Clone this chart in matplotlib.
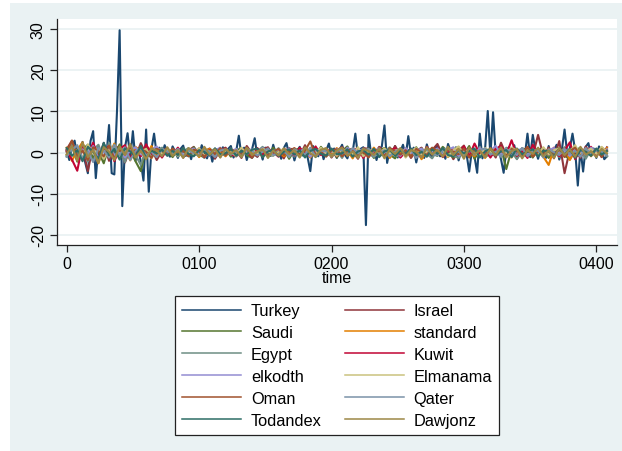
import numpy as np
import matplotlib
matplotlib.use("Agg")
import matplotlib.pyplot as plt
from matplotlib.patches import Rectangle

plt.rcParams["font.family"] = ["Liberation Sans", "DejaVu Sans"]

# Turkey cada 2 dias, el resto cada 4 dias
time_turkey = np.arange(0, 409, 2)
time_rest = np.arange(0, 409, 4)

turkey = [
    0.5, -1.8, 1.6, 2.9, -1.2, 0.8, 2.6, -2.4, -5.0, 2.8,
    5.2, -6.2, 1.5, -1.0, 2.4, -0.8, 6.7, -5.0, -5.3, 10.0,
    29.7, -13.0, 1.2, 4.7, -1.5, 5.2, -2.0, 1.0, -2.3, -6.8,
    5.6, -9.5, 0.8, 4.6, -0.5, 1.2, -0.7, 1.8, 0.3, -1.0,
    1.5, 0.2, -1.3, 0.9, 1.7, -0.8, 0.4, -1.6, 1.1, 0.6,
    -0.9, 1.8, 0.2, -1.4, 0.7, -2.2, 1.0, 0.4, -1.1, 1.3,
    -0.6, 0.9, 1.6, -1.2, 0.3, 4.1, -0.9, 1.2, -1.8, 0.5,
    0.8, 3.5, -1.0, 0.6, -1.7, 1.2, 0.1, -0.8, 1.9, -0.4,
    0.7, -1.5, 1.1, 2.3, -0.6, 0.9, -1.9, 0.4, 1.4, -0.7,
    0.9, -1.2, -4.5, 1.6, 0.3, -0.9, 1.2, -1.6, 0.5, 2.2,
    -0.8, 1.0, -1.3, 0.6, 1.9, -0.5, -1.4, 0.8, 0.2, 4.6,
    -1.0, 0.9, 1.3, -17.6, 4.3, -0.6, 1.1, -1.8, 0.7, 1.5,
    6.6, -2.5, 0.8, -0.4, 1.6, -1.2, 0.3, 1.9, -0.9, 4.0,
    -0.5, 1.2, -2.4, 0.6, 1.0, -1.3, 2.0, -0.2, -1.1, 0.8,
    1.7, -0.9, 0.4, -1.5, 2.1, 0.3, -0.8, 1.3, -1.9, 0.6,
    1.2, -0.4, -4.6, 0.5, -1.0, -4.9, 4.6, -1.4, 1.0, 10.1,
    -0.8, 9.8, -0.5, 1.1, -1.6, -4.9, 0.7, 1.3, -0.6, 1.8,
    -1.2, 0.4, 1.0, -0.7, 4.6, -1.1, 4.3, 0.6, -1.5, 0.9,
    0.3, -1.3, 1.6, -0.9, 0.5, 1.9, -1.7, 0.8, 5.6, -0.2,
    1.1, 4.6, 0.5, -8.0, 0.9, -4.6, 1.4, 2.3, -0.6, 1.0,
    -1.3, 1.5, 0.4, -1.6, -0.9,
]

israel = [
    0.8, 2.9, -1.6, 1.2, -4.5, 1.8, -0.9, 2.2, -2.0, 0.6,
    1.7, -2.4, 0.9, -1.1, 2.3, -0.5, 1.0, -1.8, 0.4, 1.1,
    -0.7, 0.9, -1.2, 0.5, 1.4, -0.9, 0.3, 1.0, -1.5, 0.6,
    1.2, -0.8, 0.4, -1.3, 1.6, -0.2, -1.0, 0.8, 1.3, -0.6,
    0.5, -1.4, 1.1, 0.2, -0.9, 1.8, -1.1, 0.7, -0.3, 1.0,
    -1.2, 0.6, 1.3, -0.8, 0.2, -1.5, 1.1, 0.9, -0.6, 1.4,
    0.3, -1.0, 1.6, -0.5, 0.8, -1.3, 0.4, 1.2, -0.9, 0.6,
    2.1, -0.7, 0.9, -1.6, 0.5, 1.7, -1.1, 0.2, 1.0, -0.4,
    0.8, -1.2, 2.4, -0.6, 1.1, -1.5, 0.3, 1.3, -0.8, 4.3,
    -0.9, 1.2, -1.4, 2.8, -5.0, 0.7, 0.6, -1.3, 1.5, -0.5,
    0.9, -1.1, 1.3,
]

saudi = [
    -0.6, 1.5, -2.2, 0.8, 1.9, -1.4, 0.3, -2.6, 1.7, -0.9,
    2.0, -1.3, 0.6, -2.1, -4.5, 1.2, -0.4, 1.0, -0.8, 0.5,
    -1.1, 0.7, 0.2, -0.9, 1.3, -0.5, -1.2, 0.8, 0.4, -0.7,
    0.9, -1.0, 0.5, 1.1, -0.6, -1.3, 0.8, 0.2, -0.9, 1.2,
    -0.4, 0.8, -1.5, 0.6, 1.0, -0.8, 0.3, -1.1, 1.4, -0.2,
    0.7, -1.2, 0.4, 1.5, -0.9, 0.1, -0.6, 1.0, -1.3, 0.5,
    1.1, -0.5, -1.4, 0.9, 0.3, -0.8, 1.3, -1.0, 0.6, -0.3,
    -0.8, 1.4, 0.2, -1.2, 0.9, -0.4, 1.6, -1.5, 0.5, 0.8,
    -1.0, 0.6, 1.2, -4.0, 0.7, -0.9, 1.1, 0.3, -1.2, 0.9,
    0.4, -1.3, 0.8, 1.0, -0.7, -1.6, 0.5, 1.2, -0.8, 0.6,
    -0.5, 1.0, -0.9,
]

standard = [
    1.2, -2.0, 0.6, 2.5, -1.3, 0.9, -2.6, 1.8, -0.7, 2.2,
    -1.5, 0.8, -1.9, 1.4, 0.3, -1.0, 1.6, -0.6, 0.9, -0.3,
    0.5, -0.8, 1.0, -0.4, 0.7, -1.1, 0.3, 0.9, -0.6, 0.2,
    -0.9, 0.6, 0.4, -0.7, 1.1, -0.3, 0.5, -1.0, 0.8, -0.2,
    0.6, -0.9, 0.2, 1.0, -0.5, 0.7, -1.2, 0.4, 0.9, -0.6,
    -0.3, 1.1, -0.8, 0.5, -1.4, 0.8, 0.2, -0.7, 1.2, -0.4,
    0.9, -1.3, 0.4, -0.2, 1.0, -0.9, 0.6, -1.6, 0.3, 1.1,
    -0.6, 0.8, -1.1, 0.4, 1.3, -0.5, 0.2, -0.9, 0.7, -1.3,
    0.5, 1.0, -0.7, 0.3, -1.2, 0.8, -0.4, 1.1, -0.8, 0.2,
    -1.0, -3.0, 0.9, -0.5, 1.2, -1.8, 0.6, -0.3, 1.0, -0.9,
    0.7, -0.6, 1.1,
]

egypt = [
    -1.0, 2.1, -0.4, 1.3, -2.2, 0.7, 1.9, -1.6, 2.4, -0.8,
    1.0, -2.3, 1.5, -0.6, -3.0, 0.9, -0.7, 0.4, 1.2, -0.5,
    0.8, -1.0, 0.3, 1.1, -0.7, 0.5, -1.3, 0.2, 0.9, -0.4,
    -0.6, 1.0, -0.9, 0.4, 0.7, -1.2, 0.3, 1.4, -0.5, -0.8,
    1.1, -0.3, 0.6, -1.0, 0.8, -0.6, 1.2, -0.9, 0.1, 0.7,
    -0.8, 0.4, -1.3, 0.9, 0.5, -0.7, 1.0, -0.2, -1.1, 0.6,
    0.2, 1.3, -0.6, -1.1, 0.7, 0.4, -0.9, 1.0, -0.3, -1.4,
    0.6, -0.2, 1.1, -0.8, -1.3, 0.9, 0.3, -0.6, 1.4, -1.0,
    -0.4, 0.7, -0.9, 1.2, 0.2, -1.6, 0.8, -0.5, 1.0, -0.3,
    0.9, -0.7, 0.4, -1.1, 1.3, -0.2, -0.9, 0.6, -1.5, 0.8,
    -0.4, 0.9, -0.6,
]

kuwit = [
    0.4, -1.7, -4.4, 1.9, -0.8, 2.4, -1.2, 0.6, 1.6, -2.1,
    0.9, 1.8, -1.4, 0.5, -0.9, 2.0, -0.3, 0.7, -1.2, 0.8,
    -0.5, 1.2, -0.8, 0.3, -0.4, 1.0, -1.1, 0.6, 0.2, -0.9,
    1.0, -0.4, -0.9, 0.7, 0.3, -1.2, 1.1, -0.5, 0.8, 0.1,
    -1.0, 0.9, 0.4, -0.7, 1.2, -0.3, -0.8, 1.5, -0.6, 0.3,
    0.8, -0.9, 1.2, -0.4, 0.6, 1.0, -1.3, 0.5, -0.2, 0.9,
    -0.7, 0.5, 1.1, -1.2, 0.2, 0.9, -0.5, -1.0, 1.4, -0.4,
    1.0, -1.1, 0.3, 0.8, -0.6, 1.5, -0.9, 2.2, -0.3, 0.6,
    -1.2, 0.9, 1.6, -0.5, 3.0, -0.8, 0.4, -1.3, 1.9, -0.6,
    0.8, -0.4, 1.2, -0.9, 0.5, 2.5, -1.6, 0.7, -0.2, 1.4,
    -0.9, 1.2, 0.3,
]

elkodth = [
    0.3, 1.4, -1.1, 0.8, -0.5, 1.6, -1.3, 0.2, 1.1, -0.7,
    0.9, -1.2, 0.5, 1.3, -0.4, -0.9, 0.7, 1.5, -0.3, 0.6,
    -0.2, 0.8, -0.6, 0.4, 1.0, -0.3, 0.6, -0.8, 0.5, 1.2,
    -0.5, 0.3, 0.9, -0.7, 0.2, 0.8, -0.4, 1.1, -0.9, 0.4,
    0.7, -0.2, 1.0, -0.6, 0.3, 0.9, -1.0, 0.5, 0.8, -0.4,
    0.2, 0.9, -0.7, 1.2, -0.3, 0.5, 0.8, -0.9, 0.4, 1.0,
    -0.6, 0.7, 0.3, -0.8, 1.1, -0.2, 0.6, 0.9, -0.7, 0.4,
    1.0, -0.5, 0.6, 1.3, -0.8, 0.2, 0.7, -0.4, 1.1, -0.6,
    0.5, 1.6, -0.3, 0.8, -0.9, 0.4, 1.0, -0.5, 0.3, 0.9,
    -0.7, 0.6, 1.1, -0.2, 0.4, -0.8, 0.9, 0.3, -0.5, 1.2,
    0.2, -0.6, 0.8,
]

elmanama = [
    -0.5, 1.1, 0.4, -1.2, 2.0, -0.3, 0.9, -1.5, 0.6, 1.3,
    -0.8, 0.5, 1.2, -1.0, 0.3, 0.9, -1.4, 0.7, -0.2, 0.8,
    0.4, -0.7, 0.9, 0.1, -0.5, 1.1, -0.8, 0.3, 0.6, -1.0,
    0.7, 0.2, -0.9, 1.2, -0.4, 0.6, -0.3, 0.9, 0.4, -0.7,
    0.1, 1.0, -0.6, 0.5, -1.1, 0.8, 0.3, -0.5, 1.2, -0.2,
    0.6, -0.8, 0.9, 0.2, -0.4, 1.3, -0.9, 0.4, 0.7, -0.6,
    1.0, -0.3, 0.5, 0.8, -1.2, 0.4, 1.1, -0.5, 0.2, 0.9,
    -0.4, 0.7, -1.0, 0.6, 1.5, -0.3, 0.8, 0.2, -0.9, 1.1,
    0.3, -0.6, 0.9, -0.2, 1.2, 0.5, -1.0, 0.8, 0.4, -0.5,
    1.3, -0.4, 0.6, 1.0, -0.7, 0.3, 1.8, -0.6, 0.5, 0.9,
    -0.3, 1.4, 0.2,
]

oman = [
    0.2, 2.9, -1.0, 0.5, -1.8, 1.3, 0.4, -0.9, 1.7, -1.4,
    0.6, -0.5, 1.4, -1.1, 0.8, 0.2, -1.3, 0.9, 0.4, -0.6,
    1.0, -0.3, 0.5, -0.9, 0.7, 0.3, -1.0, 0.6, -0.4, 1.1,
    -0.7, 0.8, 0.2, -0.5, 1.0, -1.1, 0.4, 0.7, -0.8, 0.3,
    0.9, -0.6, 0.4, 1.1, -0.3, 0.5, 2.7, -0.7, 0.2, -1.0,
    0.5, 0.8, -0.9, 0.3, 1.0, -0.6, 0.2, -1.2, 0.7, 0.4,
    -0.8, 1.1, 0.3, -0.5, 0.6, -1.0, 0.9, 0.1, -0.6, 1.2,
    0.4, -0.9, 0.7, 0.2, -0.4, 1.0, -1.2, 0.6, 0.3, -0.7,
    1.1, -0.2, 0.5, -0.8, 0.9, 0.3, -0.6, 1.4, -1.0, 0.2,
    -0.5, 0.9, -0.3, 0.7, -1.1, 0.4, 1.2, -0.8, 0.3, -0.4,
    0.8, -1.0, 0.5,
]

qater = [
    -0.9, 0.7, 1.8, -1.5, 0.3, -2.3, 1.1, 0.5, -1.2, 1.9,
    -0.6, 1.3, -1.8, 0.4, 1.0, -0.7, 0.2, -1.1, 0.8, 0.3,
    -0.4, 0.9, -1.0, 0.6, -0.2, -0.8, 0.7, 0.3, -1.1, 0.5,
    0.8, -0.5, 0.3, -1.0, 0.9, 0.4, -0.7, 0.2, 1.0, -0.6,
    -0.3, 0.6, -1.1, 0.8, 0.2, -0.4, 1.0, -0.9, 0.5, 0.3,
    -1.0, 0.4, 0.7, -0.6, 1.1, -0.2, 0.5, 0.9, -0.8, -0.3,
    0.6, -0.9, 0.2, 1.0, -0.5, 0.8, -1.3, 0.4, 0.7, -0.2,
    -0.7, 0.5, 1.2, -0.4, 0.3, -1.1, 0.9, -0.3, 0.6, 1.0,
    -0.5, 0.2, -1.0, 0.7, 0.4, -0.6, 1.1, -0.9, 0.3, 0.5,
    -1.2, 0.8, 0.1, -0.6, 0.9, -0.3, 0.4, -1.0, 1.1, -0.5,
    0.6, 0.2, -0.8,
]

todandex = [
    1.1, -0.8, 0.6, -2.1, 1.4, 0.2, -1.5, 2.3, -0.6, 0.9,
    -1.7, 1.0, 0.3, -0.9, 1.6, -1.4, 0.5, -0.2, 0.7, -0.8,
    0.4, -0.6, 1.1, -0.3, -0.9, 0.6, 0.2, -0.7, 1.0, -0.4,
    -0.2, 0.9, -0.8, 0.5, -0.4, 0.7, 1.0, -1.1, 0.3, 0.6,
    -0.9, 0.2, 0.8, -0.5, 0.6, -1.2, 0.4, 0.9, -0.3, -0.7,
    1.0, -0.4, -0.2, 0.8, -1.0, 0.3, 0.6, -0.5, 0.9, -1.1,
    0.3, 0.7, -0.8, 0.5, -0.3, 1.0, -0.6, 0.2, -1.0, 0.8,
    -0.3, 1.1, -0.6, -0.9, 0.7, -0.2, 0.4, 1.0, -1.2, 0.3,
    0.9, -0.7, 0.3, 0.6, -1.1, 1.0, -0.4, 0.2, 0.8, -0.9,
    0.5, 0.3, -0.9, 1.0, -0.4, 0.8, -1.3, 0.6, 0.2, -0.8,
    1.0, -0.5, 0.4,
]

dawjonz = [
    -0.4, 1.6, -2.0, 2.4, -1.1, 0.7, -2.5, 1.3, 0.2, -1.8,
    1.5, -0.6, 2.1, -1.2, 0.4, -1.6, 1.0, 0.5, -0.9, 1.3,
    -0.8, 0.6, -1.3, 1.1, 0.2, -0.9, 1.4, -0.5, 0.8, -1.2,
    0.9, -0.3, 0.6, -1.1, 1.2, -0.6, 0.3, 0.8, -1.3, 0.5,
    -0.7, 1.0, -0.4, 0.6, -1.2, 1.3, -0.2, -0.9, 0.7, 1.1,
    -1.0, 0.5, 1.2, -0.8, 0.3, -1.3, 0.9, 0.4, -0.6, 1.0,
    -1.4, 0.8, -0.3, 1.1, -0.9, 0.6, 0.2, -1.2, 1.3, -0.5,
    0.7, -1.0, 1.4, -0.6, 0.9, -1.5, 1.2, -0.4, 0.5, -1.1,
    1.0, -0.7, 1.3, -1.2, 0.4, 0.9, -1.4, 0.6, -0.3, 1.2,
    -0.9, 0.5, -1.3, 1.1, -0.6, 0.8, -1.0, 1.4, -0.5, 0.3,
    -1.1, 0.9, -0.2,
]

nombres = ["Turkey", "Israel", "Saudi", "standard", "Egypt", "Kuwit",
           "elkodth", "Elmanama", "Oman", "Qater", "Todandex", "Dawjonz"]
series = [turkey, israel, saudi, standard, egypt, kuwit,
          elkodth, elmanama, oman, qater, todandex, dawjonz]
# colores s2color de Stata
colores = ["#1A476F", "#90353B", "#55752F", "#E37E00", "#6E8E84", "#C10534",
           "#938DD2", "#CAC27E", "#A0522D", "#7B92A8", "#2D6D66", "#9C8847"]

xticks = [0, 100, 200, 300, 400]
xtick_labels = ["0", "0100", "0200", "0300", "0400"]
yticks = [-20, -10, 0, 10, 20, 30]

fondo = "#EAF2F3"

fig = plt.figure(figsize=(6.22, 4.52), dpi=100)
fig.patch.set_facecolor("white")
fig.patches.append(Rectangle((10 / 622, 0), 1 - 10 / 622, 448 / 452,
                             transform=fig.transFigure, facecolor=fondo,
                             edgecolor="none", zorder=-5))

ax = fig.add_axes([57 / 622, 1 - 246 / 452, 560 / 622, 226 / 452])
ax.set_zorder(2)
ax.set_facecolor("white")

lineas = []
for nombre, valores, color in zip(nombres, series, colores):
    t = time_turkey if nombre == "Turkey" else time_rest
    ln, = ax.plot(t, valores, color=color, lw=1.5, label=nombre)
    lineas.append(ln)

ax.set_xlim(-7.3, 415.6)
ax.set_ylim(-22.43, 32.43)
ax.set_xticks(xticks)
ax.set_xticklabels(xtick_labels)
ax.set_yticks(yticks)
ax.set_yticklabels([str(v) for v in yticks])
ax.grid(axis="y", color=fondo, lw=1.3, zorder=0)
ax.set_axisbelow(True)
for s in ["top", "right"]:
    ax.spines[s].set_visible(False)
for s in ["left", "bottom"]:
    ax.spines[s].set_color("#222222")
    ax.spines[s].set_linewidth(0.9)
ax.tick_params(axis="both", length=5, width=0.9, color="#222222",
               labelsize=11.5, pad=3)
ax.tick_params(axis="y", labelrotation=90)
for lab in ax.get_yticklabels():
    lab.set_va("center")
ax.set_xlabel("time", fontsize=11.5, labelpad=-1)

# leyenda en dos columnas, orden por filas como en Stata
orden = [0, 2, 4, 6, 8, 10, 1, 3, 5, 7, 9, 11]
leg = fig.legend([lineas[i] for i in orden], [nombres[i] for i in orden],
                 ncol=2, loc="center", bbox_to_anchor=(0.5418, 0.1892),
                 fontsize=11.8, frameon=True, fancybox=False, framealpha=1,
                 facecolor="white", edgecolor="#222222", handlelength=3.6,
                 handletextpad=0.6, labelspacing=0.42, columnspacing=1.4,
                 borderpad=0.45)
leg.get_frame().set_linewidth(0.9)
for h in leg.get_lines():
    h.set_linewidth(1.1)
leg.set_zorder(3)

fig.savefig("out.png", dpi=100, facecolor=fig.get_facecolor())
